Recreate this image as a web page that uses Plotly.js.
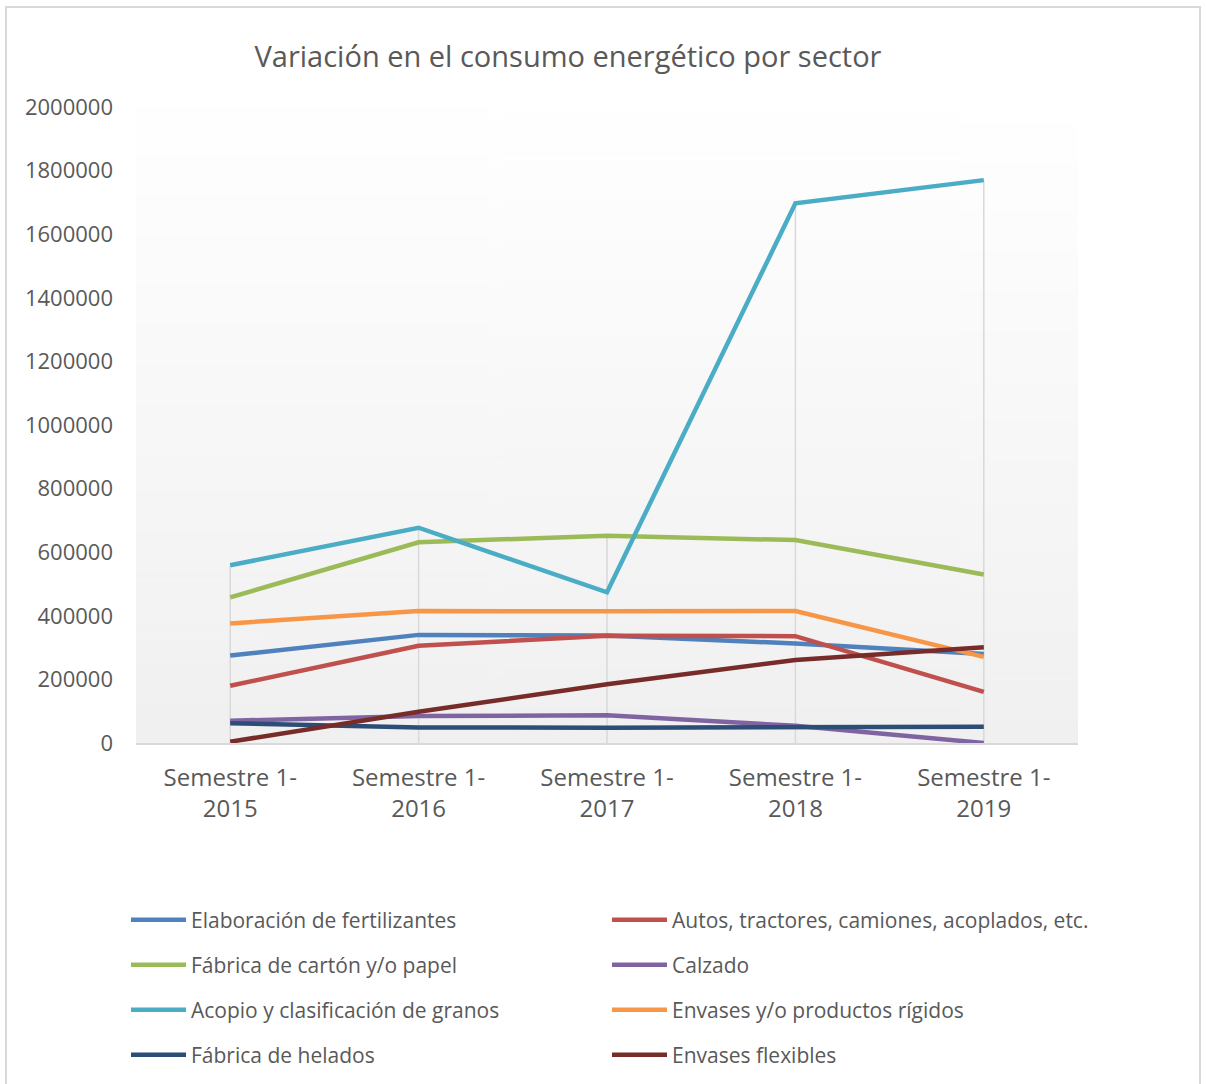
<!DOCTYPE html>
<html>
<head>
<meta charset="utf-8">
<script src="https://cdn.plot.ly/plotly-3.0.1.min.js"></script>
<style>
  html, body { margin: 0; padding: 0; background: #ffffff; }
  #wrap { position: relative; width: 1206px; height: 1084px; overflow: hidden; }
  #frame { position: absolute; left: 5px; top: 6px; width: 1196px; height: 1120px; border: 2px solid #d9d9d9; box-sizing: border-box; }
  #chart { position: absolute; left: 0; top: 0; width: 1206px; height: 1084px; }
</style>
</head>
<body>
<div id="wrap">
  <div id="frame"></div>
  <div id="chart"></div>
</div>
<script>
// ---- Data ----
const categories = ['Semestre 1-<br>2015', 'Semestre 1-<br>2016', 'Semestre 1-<br>2017', 'Semestre 1-<br>2018', 'Semestre 1-<br>2019'];

const elaboracionFertilizantes = [275000, 340000, 338000, 313000, 280000];
const autosTractores = [180000, 306000, 337000, 336000, 161000];
const fabricaCarton = [458000, 631000, 652000, 638000, 530000];
const calzado = [70000, 85000, 87000, 54000, 0];
const acopioGranos = [559000, 677000, 474000, 1697000, 1770000];
const envasesRigidos = [376000, 415000, 414000, 415000, 271000];
const fabricaHelados = [62000, 49000, 48000, 51000, 51000];
const envasesFlexibles = [4000, 98000, 185000, 261000, 301000];

const seriesNames = [
  'Elaboración de fertilizantes',
  'Autos, tractores, camiones, acoplados, etc.',
  'Fábrica de cartón y/o papel',
  'Calzado',
  'Acopio y clasificación de granos',
  'Envases y/o productos rígidos',
  'Fábrica de helados',
  'Envases flexibles'
];
const seriesValues = [elaboracionFertilizantes, autosTractores, fabricaCarton, calzado, acopioGranos, envasesRigidos, fabricaHelados, envasesFlexibles];
const seriesColors = ['#4f81bd', '#c0504d', '#9bbb59', '#8064a2', '#4bacc6', '#f79646', '#2c4d75', '#772c2a'];

// ---- Drop lines (from the highest value in each category down to 0) ----
const dropX = [], dropY = [];
categories.forEach((c, i) => {
  const m = Math.max(...seriesValues.map(s => s[i]));
  dropX.push(c, c, null);
  dropY.push(0, m, null);
});

const traces = [{
  x: dropX, y: dropY, type: 'scatter', mode: 'lines',
  line: { color: '#d9d9d9', width: 1.5 },
  hoverinfo: 'skip', showlegend: false, connectgaps: false
}];

const legendIds = ['legend', 'legend2', 'legend3', 'legend4', 'legend5', 'legend6', 'legend7', 'legend8'];

seriesNames.forEach((name, k) => {
  traces.push({
    x: categories,
    y: seriesValues[k],
    name: name,
    type: 'scatter',
    mode: 'lines',
    line: { color: seriesColors[k], width: 4.5, shape: 'linear' },
    legend: legendIds[k]
  });
});

// ---- Background gradient for plot area ----
const cv = document.createElement('canvas');
cv.width = 4; cv.height = 256;
const ctx = cv.getContext('2d');
const grd = ctx.createLinearGradient(0, 0, 0, 256);
grd.addColorStop(0, '#ffffff');
grd.addColorStop(1, '#f0f0f0');
ctx.fillStyle = grd;
ctx.fillRect(0, 0, 4, 256);
const gradUrl = cv.toDataURL('image/png');

const fontFam = '"Open Sans", sans-serif';
const txtColor = '#595959';

function legendAt(xPix, yPix) {
  return {
    orientation: 'h',
    xref: 'container', yref: 'container',
    x: xPix / 1206, y: 1 - yPix / 1084,
    xanchor: 'left', yanchor: 'middle',
    itemwidth: 55,
    bgcolor: 'rgba(0,0,0,0)',
    font: { family: fontFam, size: 21, color: txtColor },
    itemclick: false, itemdoubleclick: false
  };
}

const layout = {
  width: 1206, height: 1084,
  paper_bgcolor: 'rgba(0,0,0,0)',
  plot_bgcolor: 'rgba(0,0,0,0)',
  margin: { l: 136, r: 128, t: 107, b: 341 },
  title: {
    text: 'Variación en el consumo energético por sector',
    font: { family: fontFam, size: 29, color: txtColor },
    xref: 'container', yref: 'container',
    x: 568 / 1206, xanchor: 'center',
    y: 1 - 57 / 1084, yanchor: 'middle'
  },
  xaxis: {
    type: 'category',
    range: [-0.5, 4.5],
    showgrid: false, zeroline: false,
    showline: true, linecolor: '#d9d9d9', linewidth: 2,
    ticks: '', ticklabelstandoff: 12,
    tickfont: { family: fontFam, size: 24, color: txtColor },
    fixedrange: true
  },
  yaxis: {
    range: [0, 2000000],
    dtick: 200000, tick0: 0,
    showgrid: false, zeroline: false, showline: false,
    ticks: '', ticklabelstandoff: 22,
    tickformat: 'd',
    tickfont: { family: fontFam, size: 22, color: txtColor },
    fixedrange: true
  },
  images: [{
    source: gradUrl, xref: 'paper', yref: 'paper',
    x: 0, y: 1, sizex: 1, sizey: 1,
    xanchor: 'left', yanchor: 'top',
    sizing: 'stretch', layer: 'below'
  }],
  showlegend: true,
  legend: legendAt(126, 920),
  legend2: legendAt(607, 920),
  legend3: legendAt(126, 965),
  legend4: legendAt(607, 965),
  legend5: legendAt(126, 1010),
  legend6: legendAt(607, 1010),
  legend7: legendAt(126, 1055),
  legend8: legendAt(607, 1055),
  hovermode: false
};

Plotly.newPlot('chart', traces, layout, { displayModeBar: false, staticPlot: true });
</script>
</body>
</html>
